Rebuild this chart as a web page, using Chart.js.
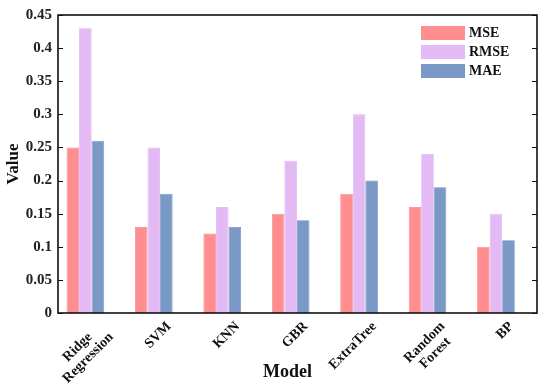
<!DOCTYPE html>
<html>
<head>
<meta charset="utf-8">
<script src="https://cdn.jsdelivr.net/npm/chart.js@4/dist/chart.umd.min.js"></script>
<style>
html,body{margin:0;padding:0;background:#fff;}
#wrap{width:550px;height:387px;position:relative;}
</style>
</head>
<body>
<div id="wrap"><canvas id="c" width="550" height="387"></canvas></div>
<script>
const categories = [["Ridge","Regression"], "SVM", "KNN", "GBR", "ExtraTree", ["Random","Forest"], "BP"];
const seriesNames = ["MSE", "RMSE", "MAE"];
const mseValues  = [0.25, 0.13, 0.12, 0.15, 0.18, 0.16, 0.10];
const rmseValues = [0.43, 0.25, 0.16, 0.23, 0.30, 0.24, 0.15];
const maeValues  = [0.26, 0.18, 0.13, 0.14, 0.20, 0.19, 0.11];
const yTicks = [0, 0.05, 0.1, 0.15, 0.2, 0.25, 0.3, 0.35, 0.4, 0.45];
const colors = ["#FF8E90", "#E4BAF5", "#7A99C7"];
const borders = ["#F98488", "#DAB0EE", "#7090C0"];

const FONT = "'Liberation Serif','Times New Roman',serif";
const toPts = arr => arr.map((v, i) => ({x: i, y: v}));
const seriesData = [mseValues, rmseValues, maeValues];

const framePlugin = {
  id: 'frame',
  afterDraw(chart) {
    const {ctx, chartArea: a, scales} = chart;
    ctx.save();
    ctx.strokeStyle = '#111';
    ctx.lineWidth = 1.6;
    ctx.strokeRect(a.left, a.top, a.right - a.left, a.bottom - a.top);
    ctx.lineWidth = 1.2;
    const y = scales.y, x = scales.x;
    yTicks.forEach(v => {
      const py = Math.round(y.getPixelForValue(v)) + 0.5;
      ctx.beginPath();
      ctx.moveTo(a.left, py); ctx.lineTo(a.left + 5, py);
      ctx.moveTo(a.right, py); ctx.lineTo(a.right - 5, py);
      ctx.stroke();
    });
    // rotated category labels (lines centred within block, block anchored at top-right)
    ctx.font = "bold 14px " + FONT;
    ctx.fillStyle = '#111';
    ctx.textAlign = 'center';
    ctx.textBaseline = 'middle';
    const lh = 15;
    categories.forEach((cat, i) => {
      const lines = Array.isArray(cat) ? cat : [cat];
      const W = Math.max(...lines.map(l => ctx.measureText(l).width));
      const px = x.getPixelForValue(i);
      ctx.save();
      ctx.translate(px + 10, a.bottom + 6);
      ctx.rotate(-Math.PI / 4);
      lines.forEach((l, j) => ctx.fillText(l, -W / 2, lh * (j + 0.5)));
      ctx.restore();
    });
    // x axis title
    ctx.font = "bold 18px " + FONT;
    ctx.fillText('Model', (a.left + a.right) / 2 - 10, chart.height - 15);
    // legend
    ctx.font = "bold 14px " + FONT;
    ctx.textAlign = 'left';
    chart.data.datasets.forEach((ds, i) => {
      const bx = a.right - 116, by = a.top + 11 + i * 19;
      ctx.fillStyle = ds.backgroundColor;
      ctx.fillRect(bx, by, 44, 14);
      ctx.fillStyle = '#111';
      ctx.fillText(ds.label, bx + 48, by + 7.5);
    });
    ctx.restore();
  }
};

new Chart(document.getElementById('c'), {
  type: 'bar',
  data: {
    datasets: seriesNames.map((n, i) => ({
      label: n,
      data: toPts(seriesData[i]),
      backgroundColor: colors[i],
      borderColor: borders[i],
      borderWidth: 0.8,
      categoryPercentage: 0.55,
      barPercentage: 1.0
    }))
  },
  options: {
    responsive: false,
    animation: false,
    layout: {padding: {top: 13, right: 13, left: 0, bottom: 0}},
    plugins: {legend: {display: false}, tooltip: {enabled: false}},
    scales: {
      x: {
        type: 'linear',
        offset: false,
        min: -0.4, max: 6.6,
        afterBuildTicks: s => { s.ticks = categories.map((c, i) => ({value: i})); },
        afterFit: s => { s.height = 74; },
        grid: {display: false, drawTicks: false},
        border: {display: false},
        ticks: {display: false, autoSkip: false, includeBounds: false},
        title: {display: false}
      },
      y: {
        min: 0, max: 0.45,
        afterBuildTicks: s => { s.ticks = yTicks.map(v => ({value: v})); },
        afterFit: s => { s.width = 58; },
        grid: {display: false, drawTicks: false},
        border: {display: false},
        ticks: {
          padding: 6,
          color: '#222',
          font: {family: FONT, size: 15, weight: 'bold'},
          callback: v => String(v)
        },
        title: {display: true, text: 'Value', color: '#111',
          font: {family: FONT, size: 17, weight: 'bold'}, padding: {top: 3, bottom: 0}}
      }
    }
  },
  plugins: [framePlugin]
});
</script>
</body>
</html>
